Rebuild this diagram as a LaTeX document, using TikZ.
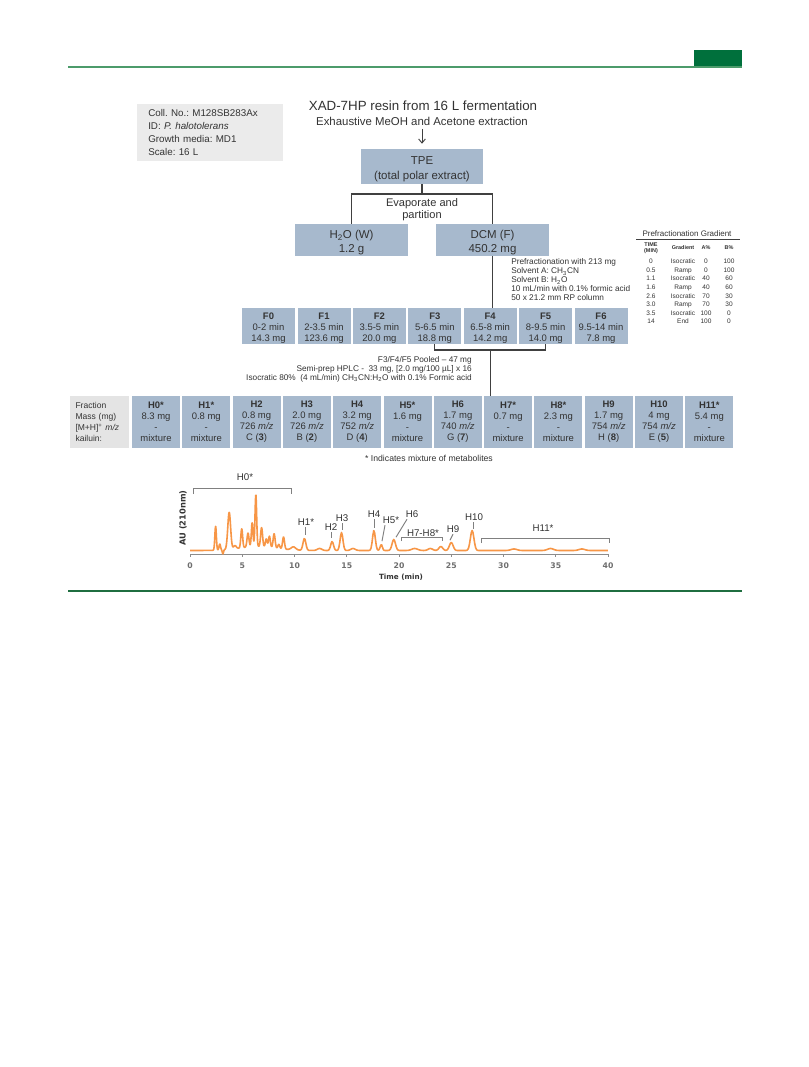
\documentclass[tikz,border=0pt]{standalone}
\usepackage{fontspec}
\setmainfont{Liberation Sans}
\newfontfamily\axisfont{DejaVu Sans}
\usetikzlibrary{arrows.meta}
\frenchspacing

\definecolor{boxblue}{HTML}{A7B9CD}
\definecolor{infogray}{HTML}{EBEBEB}
\definecolor{lblgray}{HTML}{E4E4E4}
\definecolor{textgray}{HTML}{333333}
\definecolor{connline}{HTML}{404040}
\definecolor{leadgray}{HTML}{808080}
\definecolor{axisgray}{HTML}{8C8C8C}
\definecolor{tickgray}{HTML}{6E6E6E}
\definecolor{traceorange}{HTML}{F79646}
\definecolor{rulegreen}{HTML}{4C9B6B}
\definecolor{darkgreen}{HTML}{00703C}
\definecolor{footgreen}{HTML}{1F6E40}

% raise the first line of a box so the text sits centred
\newcommand{\bigstrut}{\rule{0pt}{10.6pt}}
\newcommand{\fstrut}{\rule{0pt}{8.6pt}}

\tikzset{
  bigbox/.style={fill=boxblue,inner sep=0pt,align=center,text=textgray,font=\fontsize{8.6}{11.25}\selectfont},
  fbox/.style={fill=boxblue,minimum width=39.75pt,minimum height=27pt,inner sep=0pt,align=center,text=textgray,font=\fontsize{7.1}{8.25}\selectfont},
  hbox/.style={fbox,minimum width=36pt,minimum height=39pt},
  lblbox/.style={fill=lblgray,minimum width=44.25pt,minimum height=39pt,inner xsep=4.1pt,inner ysep=0pt,text width=36pt,align=left,text=textgray,font=\fontsize{6.4}{8.25}\selectfont},
  note/.style={text=textgray,inner sep=0pt,font=\fontsize{6.2}{6.75}\selectfont},
  peaklbl/.style={text=textgray,inner sep=0pt,font=\fontsize{7.3}{8}\selectfont},
  ticklbl/.style={text=tickgray,inner sep=0pt,font=\axisfont\bfseries\fontsize{5.8}{6}\selectfont},
  tabtxt/.style={text=textgray,inner sep=0pt,align=center,font=\fontsize{4.9}{6.45}\selectfont},
  tabhead/.style={text=textgray,inner sep=0pt,align=center,font=\bfseries\fontsize{4.1}{4.6}\selectfont},
  conn/.style={draw=connline,line width=0.9pt},
  lead/.style={draw=leadgray,line width=0.7pt},
}

\begin{document}
\begin{tikzpicture}[x=0.75pt,y=-0.75pt,>={Straight Barb[length=3pt,width=5pt]},
  declare function={
    pk(\x,\m,\a,\w)=\a*exp(-(min(abs(\x-\m)/\w,4))^2);
    au(\x)=pk(\x,2.45,24,0.1)+pk(\x,2.85,6,0.1)+pk(\x,3.15,-4,0.08)+pk(\x,3.75,37,0.19)
      +pk(\x,4.3,3,0.18)+pk(\x,4.95,19,0.12)+pk(\x,5.55,14,0.13)+pk(\x,5.95,24,0.11)
      +pk(\x,6.3,52,0.11)+pk(\x,6.85,19,0.13)+pk(\x,7.3,8,0.12)+pk(\x,7.6,11,0.12)
      +pk(\x,8.05,14,0.13)+pk(\x,8.5,4,0.12)+pk(\x,8.95,12,0.13)+pk(\x,6.5,4,2.5)
      +pk(\x,9.9,3,0.3)+pk(\x,10.95,12,0.19)+pk(\x,12.4,2,0.3)+pk(\x,13.6,9,0.19)
      +pk(\x,14.5,18,0.19)+pk(\x,15.6,2,0.3)+pk(\x,17.6,20,0.19)+pk(\x,18.3,6,0.15)
      +pk(\x,19.5,11,0.23)+pk(\x,21.5,2,0.4)+pk(\x,23,2,0.3)+pk(\x,24,4,0.25)
      +pk(\x,25,8,0.25)+pk(\x,27,20,0.24)+pk(\x,31,1.5,0.4)+pk(\x,34.5,2,0.4)+pk(\x,37.5,1.5,0.4);
  }]
\useasboundingbox (0,0) rectangle (809,1067);
\fill[white] (0,0) rectangle (809,1067);
% page rules
\fill[darkgreen] (694,50) rectangle (742,67.5);
\draw[rulegreen,line width=1.5pt] (68,67) -- (742,67);
\draw[footgreen,line width=1.6pt] (68,591) -- (742,591);

% strain info and extraction
\node[fill=infogray,anchor=north west,minimum height=42.75pt,inner xsep=8.25pt,inner ysep=0pt,text width=93pt,align=left,text=textgray,font=\fontsize{7.35}{9.75}\selectfont] (info) at (137,104) {Coll. No.: M128SB283Ax\\ID: \textit{P. halotolerans}\\Growth media: MD1\\Scale: 16 L};
\node[text=textgray,inner sep=0pt,font=\fontsize{10}{12}\selectfont] (title) at (423,106) {XAD-7HP resin from 16 L fermentation};
\node[text=textgray,inner sep=0pt,font=\fontsize{8.55}{10}\selectfont] (sub) at (422,121) {Exhaustive MeOH and Acetone extraction};
\node[bigbox,minimum width=91.5pt,minimum height=26.25pt] (tpe) at (422,166.5) {\bigstrut TPE\\(total polar extract)};
\draw[->,connline,line width=0.7pt] ([yshift=-2.6pt]sub.south) -- ([yshift=3.75pt]tpe.north);

% partition
\coordinate (split) at (422,194);
\node[text=textgray,align=center,inner sep=0pt,font=\fontsize{8.3}{9}\selectfont] (evap) at (422,209.5) {Evaporate and\\partition};
\node[bigbox,minimum width=84.75pt,minimum height=24pt,font=\fontsize{8.6}{10.5}\selectfont] (h2o) at (351.5,240) {\bigstrut H\textsubscript{2}O (W)\\1.2 g};
\node[bigbox,minimum width=84.75pt,minimum height=24pt,font=\fontsize{8.6}{10.5}\selectfont] (dcm) at (492.5,240) {\bigstrut DCM (F)\\450.2 mg};
\draw[conn] (tpe.south) -- (split);
\draw[conn] (h2o.north) -- (h2o.north |- split) -- (dcm.north |- split) -- (dcm.north);

% prefractionation
\node[note,anchor=west,align=left] (prefrac) at (511,280) {Prefractionation with 213 mg\\Solvent A: CH\textsubscript{3}CN\\Solvent B: H\textsubscript{2}O\\10 mL/min with 0.1\% formic acid\\50 x 21.2 mm RP column};
\node[text=textgray,inner sep=0pt,font=\fontsize{6}{7}\selectfont] (gradtitle) at (687,234) {Prefractionation Gradient};
\draw[connline,line width=0.9pt] (636,239.5) -- (740,239.5);
\node[tabhead] (htime) at (651,248) {TIME\\(MIN)};
\node[tabhead] (hgrad) at (683,248) {Gradient};
\node[tabhead] (ha) at (706,248) {A\%};
\node[tabhead] (hb) at (729,248) {B\%};
\node[tabtxt] (coltime) at (651,291.5) {0\\0.5\\1.1\\1.6\\2.6\\3.0\\3.5\\14};
\node[tabtxt] (colgrad) at (683,291.5) {Isocratic\\Ramp\\Isocratic\\Ramp\\Isocratic\\Ramp\\Isocratic\\End};
\node[tabtxt] (cola) at (706,291.5) {0\\0\\40\\40\\70\\70\\100\\100};
\node[tabtxt] (colb) at (729,291.5) {100\\100\\60\\60\\30\\30\\0\\0};

% F fractions
\node[fbox] (f0) at (268.5,326) {\fstrut\textbf{F0}\\0-2 min\\14.3 mg};
\node[fbox] (f1) at (324,326) {\fstrut\textbf{F1}\\2-3.5 min\\123.6 mg};
\node[fbox] (f2) at (379.4,326) {\fstrut\textbf{F2}\\3.5-5 min\\20.0 mg};
\node[fbox] (f3) at (434.8,326) {\fstrut\textbf{F3}\\5-6.5 min\\18.8 mg};
\node[fbox] (f4) at (490.2,326) {\fstrut\textbf{F4}\\6.5-8 min\\14.2 mg};
\node[fbox] (f5) at (545.6,326) {\fstrut\textbf{F5}\\8-9.5 min\\14.0 mg};
\node[fbox] (f6) at (601,326) {\fstrut\textbf{F6}\\9.5-14 min\\7.8 mg};
\draw[conn] (dcm.south) -- (dcm.south |- f4.north);

% pooled HPLC
\coordinate (pool) at (490.2,350);
\draw[conn] (f3.south) |- (pool) -| (f5.south);
\node[note,anchor=east,align=right] (pooled) at (472,369) {F3/F4/F5 Pooled -- 47 mg\\Semi-prep HPLC -\ \ 33 mg, [2.0 mg/100 µL] x 16\\Isocratic 80\%\ \ (4 mL/min) CH\textsubscript{3}CN:H\textsubscript{2}O with 0.1\% Formic acid};

% H fractions
\node[lblbox] (lbl) at (99.5,422) {Fraction\\Mass (mg)\\{[M+H]}\textsuperscript{+} \textit{m/z}\\kailuin:};
\node[hbox] (h0) at (156,422) {\textbf{H0*}\\8.3 mg\\-\\mixture};
\node[hbox] (h1) at (206.3,422) {\textbf{H1*}\\0.8 mg\\-\\mixture};
\node[hbox] (h2) at (256.6,422) {\textbf{H2}\\0.8 mg\\726 \textit{m/z}\\C (\textbf{3})};
\node[hbox] (h3) at (306.9,422) {\textbf{H3}\\2.0 mg\\726 \textit{m/z}\\B (\textbf{2})};
\node[hbox] (h4) at (357.2,422) {\textbf{H4}\\3.2 mg\\752 \textit{m/z}\\D (\textbf{4})};
\node[hbox] (h5) at (407.5,422) {\textbf{H5*}\\1.6 mg\\-\\mixture};
\node[hbox] (h6) at (457.8,422) {\textbf{H6}\\1.7 mg\\740 \textit{m/z}\\G (\textbf{7})};
\node[hbox] (h7) at (508.1,422) {\textbf{H7*}\\0.7 mg\\-\\mixture};
\node[hbox] (h8) at (558.4,422) {\textbf{H8*}\\2.3 mg\\-\\mixture};
\node[hbox] (h9) at (608.7,422) {\textbf{H9}\\1.7 mg\\754 \textit{m/z}\\H (\textbf{8})};
\node[hbox] (h10) at (659,422) {\textbf{H10}\\4 mg\\754 \textit{m/z}\\E (\textbf{5})};
\node[hbox] (h11) at (709.3,422) {\textbf{H11*}\\5.4 mg\\-\\mixture};
\draw[conn] (pool) -- (pool |- h7.north);
\node[note,font=\fontsize{6.5}{7}\selectfont] (mixnote) at (429,458) {* Indicates mixture of metabolites};

% chromatogram
\draw[axisgray,line width=0.7pt] (190,554) -- (609,554);
\draw[axisgray,line width=0.7pt] (190,554) -- (190,557) (242.25,554) -- (242.25,557) (294.5,554) -- (294.5,557) (346.75,554) -- (346.75,557) (399,554) -- (399,557) (451.25,554) -- (451.25,557) (503.5,554) -- (503.5,557) (555.75,554) -- (555.75,557) (608,554) -- (608,557);
\node[ticklbl] (t0) at (190,566) {0};
\node[ticklbl] (t5) at (242.25,566) {5};
\node[ticklbl] (t10) at (294.5,566) {10};
\node[ticklbl] (t15) at (346.75,566) {15};
\node[ticklbl] (t20) at (399,566) {20};
\node[ticklbl] (t25) at (451.25,566) {25};
\node[ticklbl] (t30) at (503.5,566) {30};
\node[ticklbl] (t35) at (555.75,566) {35};
\node[ticklbl] (t40) at (608,566) {40};
\node[text=textgray,inner sep=0pt,font=\axisfont\bfseries\fontsize{5.4}{6}\selectfont] (xlab) at (401,577) {Time (min)};
\node[text=textgray,inner sep=0pt,rotate=90,font=\axisfont\bfseries\fontsize{6.2}{7}\selectfont] (ylab) at (183,518) {AU (210nm)};
\draw[traceorange,line width=1.2pt,line join=round] plot[domain=0:10,samples=351] ({190+10.45*\x},{550.5-au(\x)}) -- plot[domain=10:40,samples=361] ({190+10.45*\x},{550.5-au(\x)});

\node[peaklbl] (lh0) at (245,477) {H0*};
\node[peaklbl] (lh1) at (306,522) {H1*};
\node[peaklbl] (lh2) at (331,527) {H2};
\node[peaklbl] (lh3) at (342,518) {H3};
\node[peaklbl] (lh4) at (374,514) {H4};
\node[peaklbl] (lh5) at (391,520) {H5*};
\node[peaklbl] (lh6) at (412,514) {H6};
\node[peaklbl] (lh78) at (423,533) {H7-H8*};
\node[peaklbl] (lh9) at (453,529) {H9};
\node[peaklbl] (lh10) at (474,517) {H10};
\node[peaklbl] (lh11) at (543,528) {H11*};
\draw[lead] (193,494) -- (193,488) -- (291,488) -- (291,494);
\draw[lead] (401,541) -- (401,537) -- (442,537) -- (442,541);
\draw[lead] (481,543) -- (481,538) -- (609,538) -- (609,543);
\draw[lead] (lh1.south) ++(-1,1.5) -- ++(0,8);
\draw[lead] (lh2.south) ++(0,1.5) -- ++(0,6);
\draw[lead] (lh3.south) ++(0,1.5) -- ++(0,7);
\draw[lead] (lh4.south) ++(0,1.5) -- ++(0,9);
\draw[lead] (lh5.south) ++(-6,1.5) -- ++(-3,16);
\draw[lead] (lh6.south) ++(-5,1.5) -- ++(-11,18);
\draw[lead] (lh9.south) ++(0,1.5) -- ++(-3,6);
\draw[lead] (lh10.south) ++(-1,1.5) -- ++(0,7);
\end{tikzpicture}
\end{document}
